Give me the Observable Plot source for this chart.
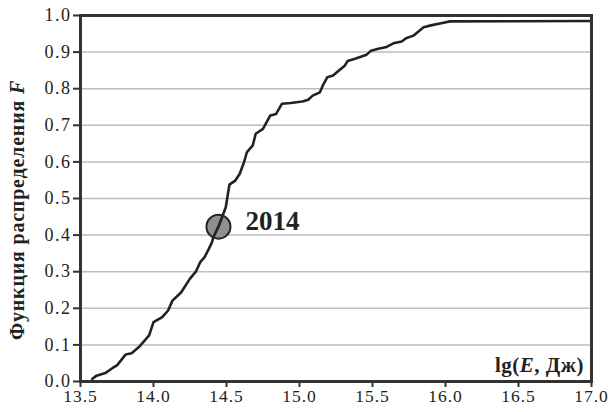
<!DOCTYPE html>
<html>
<head>
<meta charset="utf-8">
<script src="https://cdn.jsdelivr.net/npm/d3@7"></script>
<script src="https://cdn.jsdelivr.net/npm/@observablehq/plot@0.6"></script>
<style>
  html, body { margin: 0; padding: 0; background: #fff; }
  #chart svg { display: block; }
  #chart svg, #chart svg text { font-family: 'Liberation Serif', 'Times New Roman', serif; }
</style>
</head>
<body>
<div id="chart"></div>
<script>
// lg(E) values and cumulative distribution F
const lgE = [13.58, 13.61, 13.67, 13.72, 13.75, 13.81, 13.85, 13.90, 13.97, 14.00,
  14.06, 14.10, 14.13, 14.19, 14.25, 14.29, 14.32, 14.35, 14.38, 14.40,
  14.41, 14.445, 14.495, 14.52, 14.56, 14.59, 14.62, 14.64, 14.68, 14.70,
  14.75, 14.80, 14.84, 14.88, 14.94, 15.02, 15.06, 15.09, 15.14, 15.16,
  15.19, 15.23, 15.27, 15.31, 15.33, 15.38, 15.46, 15.49, 15.54, 15.59,
  15.65, 15.70, 15.73, 15.78, 15.85, 15.90, 15.97, 16.03, 17.00];
const F = [0.007, 0.016, 0.023, 0.037, 0.044, 0.074, 0.077, 0.094, 0.126, 0.162,
  0.176, 0.194, 0.221, 0.244, 0.281, 0.300, 0.326, 0.340, 0.363, 0.380,
  0.394, 0.423, 0.476, 0.538, 0.549, 0.567, 0.599, 0.627, 0.645, 0.677,
  0.690, 0.727, 0.731, 0.759, 0.761, 0.765, 0.770, 0.781, 0.790, 0.809,
  0.831, 0.836, 0.850, 0.863, 0.876, 0.882, 0.893, 0.904, 0.909, 0.913,
  0.925, 0.929, 0.938, 0.945, 0.968, 0.973, 0.979, 0.984, 0.985];

// highlighted event
const markYear = ["2014"];
const markX = [14.445];
const markY = [0.423];

const xTicks = [13.5, 14.0, 14.5, 15.0, 15.5, 16.0, 16.5, 17.0];
const yTicks = [0.0, 0.1, 0.2, 0.3, 0.4, 0.5, 0.6, 0.7, 0.8, 0.9, 1.0];
const gridTicks = [0.1, 0.2, 0.3, 0.4, 0.5, 0.6, 0.7, 0.8, 0.9];

const curve = lgE.map((x, i) => ({x, y: F[i]}));
const marks = markYear.map((t, i) => ({t, x: markX[i], y: markY[i]}));

const FONT = "'Liberation Serif', 'Times New Roman', serif";

const chart = Plot.plot({
  width: 608,
  height: 412,
  marginTop: 15,
  marginRight: 17,
  marginBottom: 31,
  marginLeft: 80,
  style: {fontFamily: FONT, fontSize: "17px", color: "#222", background: "#fff"},
  x: {domain: [13.5, 17.0]},
  y: {domain: [0, 1]},
  marks: [
    Plot.gridY(gridTicks, {stroke: "#bdbdbd", strokeOpacity: 1, strokeWidth: 1.5}),
    Plot.axisX({ticks: xTicks, tickFormat: d3.format(".1f"), tickSize: 6, tickPadding: 2,
      label: null, stroke: "#333", strokeWidth: 2, fill: "#222", fontSize: 17.5}),
    Plot.axisY({ticks: yTicks, tickFormat: d3.format(".1f"), tickSize: 7, tickPadding: 2,
      label: null, stroke: "#333", strokeWidth: 2, fill: "#222", fontSize: 18}),
    Plot.dot(marks, {x: "x", y: "y", r: 12, fill: "#8f8f8f", stroke: "#222", strokeWidth: 2}),
    Plot.line(curve, {x: "x", y: "y", stroke: "#222", strokeWidth: 2.6, strokeLinejoin: "round"}),
    Plot.text(marks, {x: "x", y: "y", text: "t", dx: 27, dy: -5, textAnchor: "start",
      fontSize: 27, fontWeight: "bold", fill: "#222"}),
    Plot.frame({stroke: "#333", strokeWidth: 3})
  ]
});

const svg = d3.select(chart);
svg.selectAll("g[aria-label='x-axis tick label'] text")
  .attr("letter-spacing", "1px");
svg.selectAll("g[aria-label='y-axis tick label'] text")
  .attr("letter-spacing", "1.5px");

// y-axis title
const yl = svg.append("text")
  .attr("transform", "translate(24,210) rotate(-90)")
  .attr("text-anchor", "middle")
  .attr("font-family", FONT)
  .attr("font-size", 20)
  .attr("font-weight", "bold")
  .attr("letter-spacing", "0.8px")
  .attr("fill", "#222");
yl.append("tspan").text("Функция распределения ");
yl.append("tspan").attr("font-style", "italic").text("F");

// x-axis title (inside the plot, bottom right)
const xl = svg.append("text")
  .attr("x", 584)
  .attr("y", 372)
  .attr("text-anchor", "end")
  .attr("font-family", FONT)
  .attr("font-size", 21)
  .attr("font-weight", "bold")
  .attr("letter-spacing", "0.5px")
  .attr("fill", "#222");
xl.append("tspan").text("lg(");
xl.append("tspan").attr("font-style", "italic").text("E");
xl.append("tspan").text(", Дж)");

document.getElementById("chart").appendChild(chart);
</script>
</body>
</html>
